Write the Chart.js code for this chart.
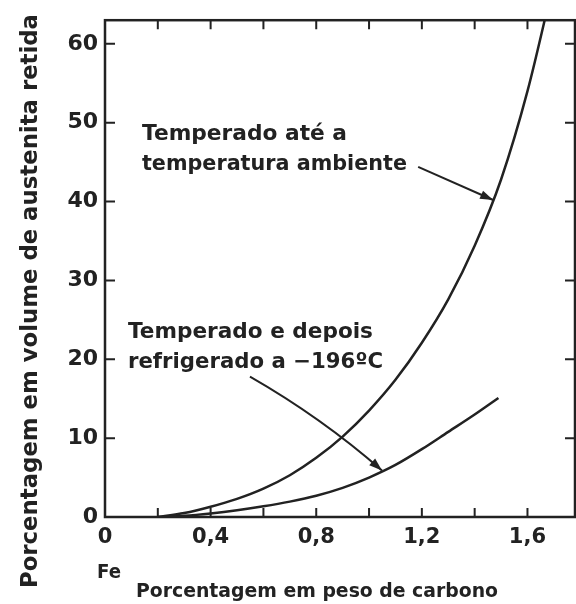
<!DOCTYPE html>
<html>
<head>
<meta charset="utf-8">
<script src="https://cdn.jsdelivr.net/npm/chart.js@4.4.1/dist/chart.umd.min.js"></script>
<style>
  html, body { margin: 0; padding: 0; background: #fff; }
  #wrap { width: 576px; height: 604px; }
</style>
</head>
<body>
<div id="wrap"><canvas id="chart" width="576" height="604"></canvas></div>
<script>
// carbon wt% vs retained austenite vol%
const carbonRoomTemp = [0.2, 0.3, 0.4, 0.5, 0.6, 0.7, 0.8, 0.9, 1.0, 1.1, 1.2, 1.3, 1.4, 1.5, 1.6, 1.7];
const austeniteRoomTemp = [0, 0.5, 1.3, 2.3, 3.6, 5.3, 7.5, 10.2, 13.5, 17.4, 22.1, 27.6, 34.4, 42.8, 54, 68];

const carbonCooled = [0.2, 0.3, 0.4, 0.5, 0.6, 0.7, 0.8, 0.9, 1.0, 1.1, 1.2, 1.3, 1.4, 1.49];
const austeniteCooled = [0, 0.15, 0.45, 0.85, 1.35, 1.95, 2.7, 3.7, 5.0, 6.6, 8.6, 10.8, 13.0, 15.1];

const yTickValues = [0, 10, 20, 30, 40, 50, 60];
const xLabelValues = [0, 0.4, 0.8, 1.2, 1.6];

const INK = "#222222";
const FONT = '"DejaVu Sans", "Liberation Sans", sans-serif';

// annotation text / arrows, in data units
const notes = [
  { lines: ["Temperado até a", "temperatura ambiente"], x: 0.14, y: [47.8, 44.05], widths: [205, 265] },
  { lines: ["Temperado e depois", "refrigerado a \u2212196\u00baC"], x: 0.087, y: [22.7, 18.95], widths: [245, 255] },
];
const arrows = [
  { from: [1.186, 44.4], ctrl: null, to: [1.47, 40.2] },
  { from: [0.549, 17.8], ctrl: [0.82, 12.6], to: [1.049, 5.9] },
];

function pts(xs, ys) {
  return xs.map((x, i) => ({ x, y: ys[i] }));
}

function fmtX(v) {
  return String(v).replace(".", ",");
}

function drawFit(ctx, text, x, y, width, size, align) {
  ctx.save();
  ctx.font = `bold ${size}px ${FONT}`;
  const w = ctx.measureText(text).width;
  ctx.translate(x, y);
  ctx.scale(width / w, 1);
  ctx.textAlign = align;
  ctx.fillText(text, 0, 0);
  ctx.restore();
}

function arrowHead(ctx, tx, ty, angle) {
  const len = 13, half = 4.5;
  ctx.save();
  ctx.translate(tx, ty);
  ctx.rotate(angle);
  ctx.beginPath();
  ctx.moveTo(0, 0);
  ctx.lineTo(-len, -half);
  ctx.lineTo(-len, half);
  ctx.closePath();
  ctx.fill();
  ctx.restore();
}

const framePlugin = {
  id: "framePlugin",
  afterDatasetsDraw(chart) {
    const { ctx, chartArea: a, scales } = chart;
    const xs = scales.x, ys = scales.y;
    ctx.save();
    ctx.strokeStyle = INK;
    ctx.fillStyle = INK;
    ctx.lineWidth = 2.5;
    ctx.strokeRect(a.left, a.top, a.right - a.left, a.bottom - a.top);

    // inner tick marks on all four sides
    ctx.lineWidth = 2;
    ctx.beginPath();
    xs.ticks.forEach((t) => {
      if (t.value <= 0) return;
      const px = xs.getPixelForValue(t.value);
      ctx.moveTo(px, a.bottom);
      ctx.lineTo(px, a.bottom - 9);
      ctx.moveTo(px, a.top);
      ctx.lineTo(px, a.top + 9);
    });
    ys.ticks.forEach((t) => {
      if (t.value <= 0) return;
      const py = ys.getPixelForValue(t.value);
      ctx.moveTo(a.left, py);
      ctx.lineTo(a.left + 10, py);
      ctx.moveTo(a.right, py);
      ctx.lineTo(a.right - 10, py);
    });
    ctx.stroke();

    // arrows
    ctx.lineWidth = 2;
    arrows.forEach((ar) => {
      const fx = xs.getPixelForValue(ar.from[0]), fy = ys.getPixelForValue(ar.from[1]);
      const tx = xs.getPixelForValue(ar.to[0]), ty = ys.getPixelForValue(ar.to[1]);
      ctx.beginPath();
      ctx.moveTo(fx, fy);
      let ang;
      if (ar.ctrl) {
        const cx = xs.getPixelForValue(ar.ctrl[0]), cy = ys.getPixelForValue(ar.ctrl[1]);
        ctx.quadraticCurveTo(cx, cy, tx, ty);
        ang = Math.atan2(ty - cy, tx - cx);
      } else {
        ctx.lineTo(tx, ty);
        ang = Math.atan2(ty - fy, tx - fx);
      }
      ctx.stroke();
      arrowHead(ctx, tx, ty, ang);
    });

    // curve labels
    ctx.textBaseline = "alphabetic";
    notes.forEach((n) => {
      const px = xs.getPixelForValue(n.x);
      n.lines.forEach((line, i) => {
        drawFit(ctx, line, px, ys.getPixelForValue(n.y[i]), n.widths[i], 21, "left");
      });
    });

    // axis titles
    drawFit(ctx, "Porcentagem em peso de carbono", 317, 597, 362, 20, "center");
    drawFit(ctx, "Fe", 109, 578, 24, 19, "center");
    ctx.save();
    ctx.translate(37, 301);
    ctx.rotate(-Math.PI / 2);
    drawFit(ctx, "Porcentagem em volume de austenita retida", 0, 0, 574, 23, "center");
    ctx.restore();

    ctx.restore();
  },
};

const lineStyle = {
  showLine: true,
  pointRadius: 0,
  borderColor: INK,
  borderWidth: 2.5,
  cubicInterpolationMode: "monotone",
  fill: false,
};

new Chart(document.getElementById("chart"), {
  type: "scatter",
  data: {
    datasets: [
      { label: "Temperado até a temperatura ambiente", data: pts(carbonRoomTemp, austeniteRoomTemp), ...lineStyle },
      { label: "Temperado e depois refrigerado a -196ºC", data: pts(carbonCooled, austeniteCooled), ...lineStyle },
    ],
  },
  options: {
    responsive: false,
    animation: false,
    layout: { padding: { top: 15, right: 1, left: 0, bottom: 0 } },
    plugins: { legend: { display: false }, tooltip: { enabled: false } },
    scales: {
      x: {
        type: "linear",
        min: 0,
        max: 1.78,
        afterFit(scale) { scale.height = 87; },
        grid: { display: false, drawTicks: false },
        border: { display: false },
        ticks: {
          stepSize: 0.2,
          includeBounds: false,
          autoSkip: false,
          maxRotation: 0,
          padding: 8,
          color: INK,
          font: { family: FONT, size: 21, weight: "bold" },
          callback: (v) => (xLabelValues.some((l) => Math.abs(l - v) < 1e-6) ? fmtX(Math.round(v * 10) / 10) : ""),
        },
      },
      y: {
        type: "linear",
        min: 0,
        max: 63,
        afterFit(scale) { scale.width = 105; },
        grid: { display: false, drawTicks: false },
        border: { display: false },
        ticks: {
          stepSize: 10,
          includeBounds: false,
          padding: 7,
          color: INK,
          font: { family: FONT, size: 22, weight: "bold" },
          callback: (v) => (yTickValues.includes(v) ? String(v) : ""),
        },
      },
    },
  },
  plugins: [framePlugin],
});
</script>
</body>
</html>
